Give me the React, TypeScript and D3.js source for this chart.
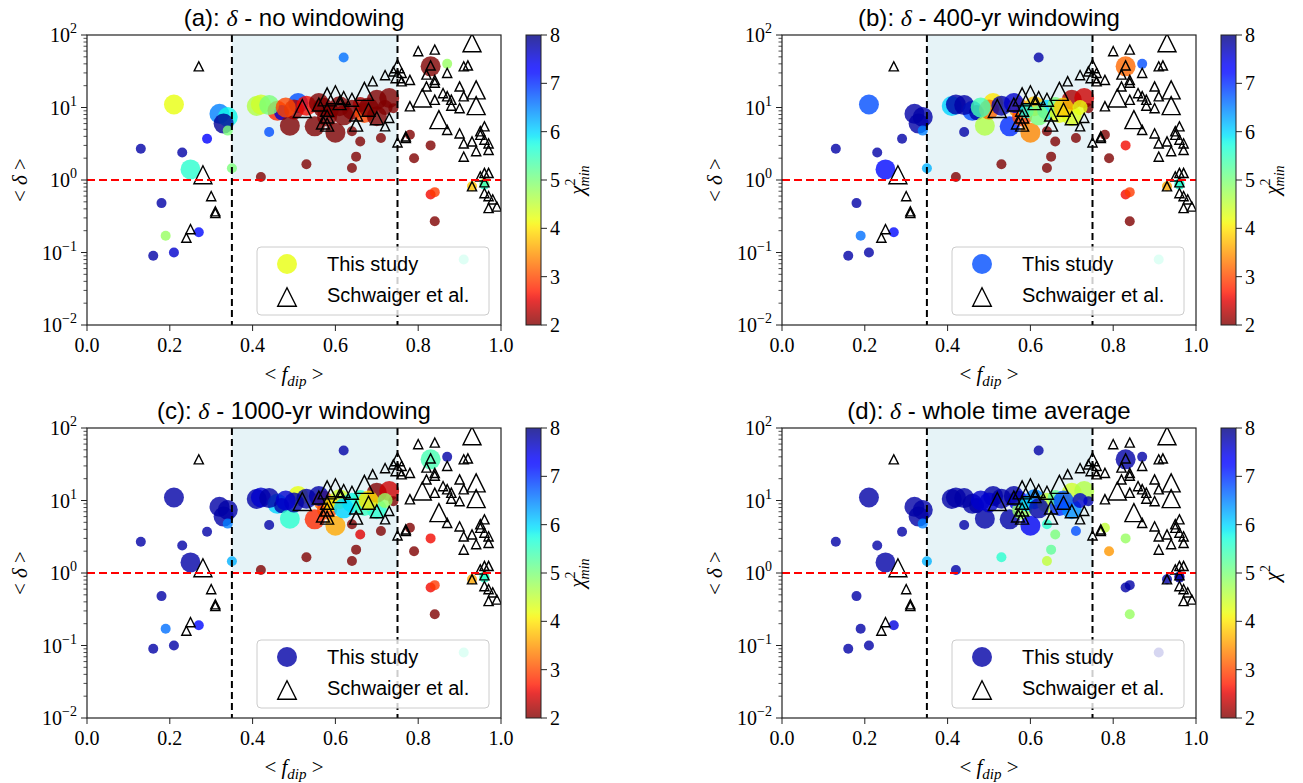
import React from 'react';
import * as d3 from 'd3';

const W = 1303;
const H = 783;
const PW = 414;
const PH = 290;

// this study: position, marker size class and chi2 per panel
const cX = [0.21, 0.13, 0.16, 0.18, 0.19, 0.21, 0.23, 0.25, 0.27, 0.29, 0.32, 0.34, 0.33, 0.34, 0.35,
  0.41, 0.42, 0.44, 0.42, 0.46, 0.47, 0.49, 0.51, 0.50, 0.53, 0.53, 0.55, 0.57, 0.58, 0.60, 0.62,
  0.61, 0.64, 0.64, 0.66, 0.65, 0.64, 0.67, 0.70, 0.70, 0.73, 0.74, 0.71, 0.78, 0.79, 0.83, 0.83,
  0.87, 0.83, 0.84, 0.84, 0.91, 0.93, 0.96, 0.96, 0.56, 0.59, 0.62, 0.66, 0.68, 0.44, 0.48, 0.72];
const cY = [11, 2.7, 0.09, 0.48, 0.17, 0.10, 2.4, 1.4, 0.19, 3.7, 8.2, 7.4, 6.0, 4.8, 1.45,
  10.5, 11, 4.6, 1.1, 9, 8.5, 5.6, 11.5, 9.4, 10.6, 1.65, 5.5, 10, 7.5, 4.5, 49,
  10.4, 9.3, 4.7, 3.4, 2.1, 1.46, 8.4, 7.6, 12.8, 13.5, 9.8, 3.8, 4.2, 2.0, 3.0, 37,
  40, 0.63, 0.68, 0.27, 0.08, 0.82, 0.90, 0.86, 11.5, 9.0, 7.8, 11, 10, 10.8, 10, 10];
const cS = ['l', 's', 's', 's', 's', 's', 's', 'l', 's', 's', 'l', 'l', 'l', 's', 's',
  'l', 'l', 's', 's', 'l', 'm', 'l', 'l', 'l', 'l', 's', 'l', 'l', 'l', 'l', 's',
  'l', 'l', 's', 's', 's', 's', 'l', 'l', 'l', 'l', 's', 's', 's', 's', 's', 'l',
  's', 's', 's', 's', 's', 's', 's', 's', 'l', 'm', 'l', 'm', 'l', 'l', 'l', 'm'];
const chiA = [4.2, 7.8, 7.8, 7.8, 4.8, 7.6, 7.8, 5.6, 7.2, 7.3, 6.5, 5.8, 7.9, 5.0, 5.0,
  4.6, 4.4, 6.8, 2.0, 2.8, 7.6, 2.0, 6.8, 2.2, 2.6, 2.0, 2.0, 2.0, 2.0, 2.0, 6.6,
  2.0, 2.0, 2.0, 2.0, 2.0, 2.0, 3.0, 2.0, 2.0, 2.0, 2.0, 2.0, 2.0, 2.0, 2.0, 2.0,
  4.8, 2.6, 2.9, 2.0, 5.5, 3.8, 4.2, 5.6, 2.0, 2.0, 2.0, 2.2, 2.0, 5.0, 3.0, 2.0];
const chiB = [6.8, 7.8, 7.8, 7.8, 6.6, 7.8, 7.8, 7.2, 7.2, 7.8, 7.8, 7.8, 7.8, 6.5, 6.2,
  6.0, 7.8, 7.8, 2.0, 6.8, 7.8, 4.6, 4.0, 3.2, 7.8, 2.0, 7.0, 3.5, 3.0, 3.4, 7.8,
  3.8, 6.0, 2.0, 2.0, 2.0, 2.0, 4.2, 4.3, 2.2, 2.4, 2.0, 2.0, 2.0, 2.0, 2.6, 3.2,
  6.8, 2.6, 2.9, 2.0, 5.5, 3.6, 5.6, 5.6, 7.6, 5.8, 5.0, 5.0, 3.8, 7.8, 5.4, 4.2];
const chiC = [7.8, 7.8, 7.8, 7.8, 6.6, 7.8, 7.8, 7.8, 7.2, 7.8, 7.8, 7.8, 7.8, 6.5, 6.2,
  7.8, 7.6, 7.8, 2.0, 6.0, 7.8, 5.6, 4.2, 7.8, 7.8, 2.0, 2.8, 3.2, 3.0, 3.6, 7.8,
  4.4, 5.8, 2.0, 2.5, 2.0, 2.0, 5.5, 5.6, 2.0, 2.4, 2.0, 2.0, 2.0, 2.0, 2.6, 5.4,
  7.8, 2.6, 2.9, 2.0, 5.5, 3.6, 5.4, 5.6, 7.8, 4.0, 6.0, 5.6, 4.0, 7.8, 7.6, 4.8];
const chiD = [7.8, 7.8, 7.8, 7.8, 7.8, 7.8, 7.8, 7.8, 7.5, 7.8, 7.8, 7.8, 7.8, 6.5, 6.2,
  7.8, 7.8, 7.8, 7.8, 7.8, 7.8, 7.8, 7.8, 7.6, 7.8, 5.6, 7.8, 7.4, 4.8, 7.4, 7.8,
  6.5, 4.5, 5.6, 5.0, 5.2, 4.5, 7.0, 6.4, 4.4, 4.6, 7.8, 6.8, 4.5, 3.5, 4.8, 7.8,
  7.8, 7.8, 7.8, 4.8, 7.8, 7.8, 7.8, 7.8, 7.8, 6.0, 7.8, 5.2, 6.8, 7.8, 7.6, 7.6];

// Schwaiger et al.
const tX = [0.27, 0.28, 0.30, 0.31, 0.31, 0.25, 0.24, 0.52, 0.58, 0.60, 0.58, 0.58, 0.58, 0.61, 0.62,
  0.64, 0.65, 0.65, 0.67, 0.68, 0.69, 0.70, 0.72, 0.73, 0.72, 0.74, 0.75, 0.75, 0.76, 0.78, 0.76,
  0.75, 0.77, 0.77, 0.80, 0.84, 0.83, 0.82, 0.84, 0.84, 0.82, 0.81, 0.84, 0.86, 0.87, 0.87, 0.88,
  0.88, 0.90, 0.90, 0.91, 0.91, 0.92, 0.93, 0.94, 0.94, 0.85, 0.87, 0.78, 0.90, 0.91, 0.91, 0.93,
  0.94, 0.95, 0.96, 0.95, 0.96, 0.97, 0.97, 0.96, 0.97, 0.95, 0.93, 0.96, 0.97, 0.98, 0.97, 0.99, 0.96,
  0.57, 0.56];
const tY = [37, 1.18, 0.6, 0.37, 0.35, 0.21, 0.16, 9.7, 14, 15, 7.5, 5.8, 9.3, 11.5, 13.5,
  12.8, 8, 5.8, 16.7, 9.3, 23, 7.1, 5.5, 7.2, 28, 31.5, 37, 27, 30, 24, 23,
  3.3, 4, 3.8, 60, 63, 38, 28.5, 24, 22, 19.5, 13.5, 12.8, 15.8, 14.3, 30, 12.8,
  10.6, 9.8, 19.5, 14.3, 37, 38, 78, 17.5, 10.6, 6.8, 4.9, 10.4, 4.4, 3.2, 2.1, 3.4,
  2.5, 4.7, 5.5, 4.2, 3.6, 2.6, 3.2, 1.25, 1.25, 1.12, 0.82, 0.66, 0.6, 0.54, 0.41, 0.43, 0.93,
  6.2, 11];
const tS = ['s', 'l', 's', 's', 's', 's', 's', 'l', 'l', 'l', 'm', 'm', 'm', 'm', 'm',
  'm', 'm', 'm', 'l', 'm', 's', 'm', 's', 's', 's', 's', 'm', 'm', 's', 's', 's',
  's', 's', 's', 's', 's', 's', 's', 's', 's', 's', 'l', 's', 's', 's', 's', 's',
  's', 's', 's', 's', 's', 's', 'l', 'l', 'l', 'l', 's', 's', 's', 's', 's', 's',
  's', 's', 's', 's', 's', 's', 's', 's', 's', 's', 's', 's', 's', 's', 's', 's', 's',
  'm', 'm'];

const xTicks = [0, 0.2, 0.4, 0.6, 0.8, 1.0];
const yDecades = [-2, -1, 0, 1, 2];
const cbTicks = [2, 3, 4, 5, 6, 7, 8];

const panels = [
  { tag: '(a)', title: 'no windowing', chi: chiA, sub: true, ox: 87, oy: 35 },
  { tag: '(b)', title: '400-yr windowing', chi: chiB, sub: true, ox: 782, oy: 35 },
  { tag: '(c)', title: '1000-yr windowing', chi: chiC, sub: true, ox: 87, oy: 428 },
  { tag: '(d)', title: 'whole time average', chi: chiD, sub: false, ox: 782, oy: 428 },
];

const rad: Record<string, number> = { s: 5, m: 7.5, l: 10 };
const tri: Record<string, number> = { s: 4.6, m: 6.5, l: 9 };

const SERIF = "'Liberation Serif', 'DejaVu Serif', serif";
const SANS = "'Liberation Sans', Arial, sans-serif";

// matplotlib jet, reversed over 2..8
const jr = d3.scaleLinear().domain([0, 0.35, 0.66, 0.89, 1]).range([0, 0, 1, 1, 0.5]).clamp(true);
const jg = d3.scaleLinear().domain([0, 0.125, 0.375, 0.64, 0.91, 1]).range([0, 0, 1, 1, 0, 0]).clamp(true);
const jb = d3.scaleLinear().domain([0, 0.11, 0.34, 0.65, 1]).range([0.5, 1, 1, 0, 0]).clamp(true);
const norm = d3.scaleLinear().domain([2, 8]).range([1, 0]).clamp(true);
const jet = (v: number) => {
  const t = norm(v);
  return d3.rgb(jr(t) * 255, jg(t) * 255, jb(t) * 255).formatHex();
};

const triPath = (h: number) => `M0,${-h}L${-h},${h}L${h},${h}Z`;

function Panel({ p, i }: { p: any; i: number }) {
  const x = d3.scaleLinear().domain([0, 1]).range([p.ox, p.ox + PW]);
  const y = d3.scaleLog().domain([1e-2, 1e2]).range([p.oy + PH, p.oy]);
  const cb = d3.scaleLinear().domain([2, 8]).range([p.oy + PH, p.oy]);
  const cbx = p.ox + PW + 25;
  const minor: number[] = [];
  yDecades.slice(0, -1).forEach((k) => d3.range(2, 10).forEach((m) => minor.push(m * Math.pow(10, k))));
  const gid = `cbar${i}`;
  const lx = p.ox + 170;
  const ly = p.oy + 212;

  return (
    <g>
      <defs>
        <linearGradient id={gid} x1="0" y1="1" x2="0" y2="0">
          {d3.range(0, 61).map((k) => (
            <stop key={k} offset={k / 60} stopColor={jet(2 + (k / 60) * 6)} />
          ))}
        </linearGradient>
        <clipPath id={`clip${i}`}>
          <rect x={p.ox} y={p.oy} width={PW} height={PH} />
        </clipPath>
      </defs>

      <rect x={x(0.35)} y={y(100)} width={x(0.75) - x(0.35)} height={y(1) - y(100)}
        fill="#add8e6" fillOpacity={0.3} />

      <g clipPath={`url(#clip${i})`}>
        {cX.map((cx, j) => (
          <circle key={j} cx={x(cx)} cy={y(cY[j])} r={rad[cS[j]]} fill={jet(p.chi[j])} fillOpacity={0.8} />
        ))}
        {tX.map((tx, j) => (
          <path key={j} d={triPath(tri[tS[j]])} transform={`translate(${x(tx)},${y(tY[j])})`}
            fill="none" stroke="#000" strokeWidth={1.4} />
        ))}
        <line x1={p.ox} x2={p.ox + PW} y1={y(1)} y2={y(1)} stroke="red" strokeWidth={2} strokeDasharray="8,4" />
        {[0.35, 0.75].map((v) => (
          <line key={v} x1={x(v)} x2={x(v)} y1={p.oy} y2={p.oy + PH} stroke="#000" strokeWidth={2} strokeDasharray="7,4" />
        ))}
      </g>

      {/* legend */}
      <rect x={lx} y={ly} width={232} height={68} rx={4} fill="#fff" fillOpacity={0.8} stroke="#ccc" strokeWidth={1} />
      <circle cx={lx + 30} cy={ly + 17} r={10} fill={jet(p.chi[0])} fillOpacity={0.8} />
      <path d={triPath(9.3)} transform={`translate(${lx + 30},${ly + 50})`} fill="none" stroke="#000" strokeWidth={1.4} />
      <text x={lx + 70} y={ly + 24} fontFamily={SANS} fontSize={20}>This study</text>
      <text x={lx + 70} y={ly + 55} fontFamily={SANS} fontSize={20}>Schwaiger et al.</text>

      {/* axes frame */}
      <rect x={p.ox} y={p.oy} width={PW} height={PH} fill="none" stroke="#222" strokeWidth={1.2} />

      {xTicks.map((t) => (
        <g key={t}>
          <line x1={x(t)} x2={x(t)} y1={p.oy + PH} y2={p.oy + PH + 6} stroke="#222" strokeWidth={1} />
          <text x={x(t)} y={p.oy + PH + 27} textAnchor="middle" fontFamily={SERIF} fontSize={20}>{t.toFixed(1)}</text>
        </g>
      ))}
      {minor.map((m) => (
        <line key={m} x1={p.ox - 3.5} x2={p.ox} y1={y(m)} y2={y(m)} stroke="#222" strokeWidth={0.8} />
      ))}
      {yDecades.map((k) => (
        <g key={k}>
          <line x1={p.ox - 6} x2={p.ox} y1={y(Math.pow(10, k))} y2={y(Math.pow(10, k))} stroke="#222" strokeWidth={1} />
          <text x={p.ox - 10} y={y(Math.pow(10, k)) + 7} textAnchor="end" fontFamily={SERIF} fontSize={20}>
            10<tspan dy={-9} fontSize={14}>{k < 0 ? `\u2212${-k}` : k}</tspan>
          </text>
        </g>
      ))}

      {/* title */}
      <text x={p.ox + PW / 2} y={p.oy - 9} textAnchor="middle" fontFamily={SANS} fontSize={24}>
        {p.tag}: <tspan fontFamily={SERIF} fontStyle="italic">δ</tspan> - {p.title}
      </text>

      {/* axis labels */}
      <text x={p.ox + PW / 2} y={p.oy + PH + 56} textAnchor="middle" fontFamily={SERIF} fontSize={21}>
        {'< '}<tspan fontStyle="italic">f</tspan>
        <tspan fontStyle="italic" fontSize={15} dy={5}>dip</tspan>
        <tspan dy={-5}>{' >'}</tspan>
      </text>
      <text transform={`translate(${p.ox - 60},${p.oy + PH / 2}) rotate(-90)`} textAnchor="middle"
        fontFamily={SERIF} fontSize={21}>
        {'< '}<tspan fontStyle="italic">δ</tspan>{' >'}
      </text>

      {/* colorbar */}
      <rect x={cbx} y={p.oy} width={15} height={PH} fill={`url(#${gid})`} fillOpacity={0.8} />
      <rect x={cbx} y={p.oy} width={15} height={PH} fill="none" stroke="#222" strokeWidth={1} />
      {cbTicks.map((t) => (
        <g key={t}>
          <line x1={cbx + 15} x2={cbx + 21} y1={cb(t)} y2={cb(t)} stroke="#222" strokeWidth={1} />
          <text x={cbx + 24} y={cb(t) + 7} fontFamily={SERIF} fontSize={20}>{t}</text>
        </g>
      ))}
      <text transform={`translate(${cbx + 58},${p.oy + PH / 2}) rotate(-90)`} textAnchor="middle"
        fontFamily={SERIF} fontSize={21}>
        <tspan fontStyle="italic">χ</tspan>
        <tspan fontSize={14} dy={-9}>2</tspan>
        {p.sub ? <tspan fontSize={14} fontStyle="italic" dy={14} dx={-8}>min</tspan> : null}
      </text>
    </g>
  );
}

export default function App() {
  return (
    <svg width={W} height={H} style={{ position: 'absolute', left: 0, top: 0, background: '#fff' }}>
      <rect width={W} height={H} fill="#fff" />
      {panels.map((p, i) => (
        <Panel key={p.tag} p={p} i={i} />
      ))}
    </svg>
  );
}
